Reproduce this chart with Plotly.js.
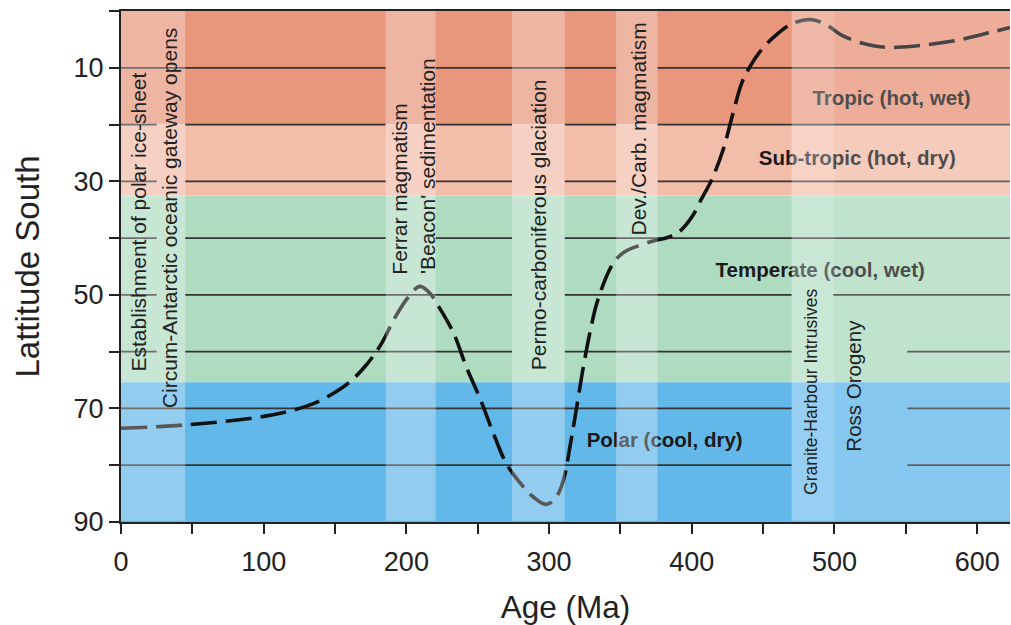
<!DOCTYPE html>
<html>
<head>
<meta charset="utf-8">
<script src="https://cdn.plot.ly/plotly-3.0.1.min.js"></script>
<style>
  html, body { margin: 0; padding: 0; background: #fff; }
  #chart { width: 1011px; height: 625px; }
</style>
</head>
<body>
<div id="chart"></div>
<script>
// ---- Data ----
const ageMa = [0, 45, 100, 130, 145, 160, 172, 182, 192, 201, 209.5, 216.5, 222, 233, 242, 252, 261, 270, 280, 289, 298, 305, 310, 315, 319, 324, 329, 334, 345, 353, 361, 373, 383, 392, 400, 407, 414, 422, 429, 435, 441, 447, 457, 469, 483, 494, 506, 523, 537, 555, 583, 609, 623];
const latSouth = [73.5, 72.9, 71.4, 69.6, 67.9, 65.4, 62.3, 58.8, 54.0, 50.5, 48.5, 49.7, 51.8, 56.7, 62.7, 68.5, 74.4, 79.7, 83.2, 85.6, 86.9, 85.6, 82.7, 76.2, 70.3, 62.7, 56.2, 51.0, 44.4, 42.4, 41.5, 40.5, 39.9, 38.7, 36.3, 33.0, 29.7, 24.4, 17.9, 12.7, 9.7, 7.4, 4.7, 2.4, 1.5, 2.4, 4.4, 5.9, 6.4, 6.2, 5.3, 3.8, 2.9];

// climate zones (latitude ranges)
const zoneNames = ["Tropic (hot, wet)", "Sub-tropic (hot, dry)", "Temperate (cool, wet)", "Polar (cool, dry)"];
const zoneFrom = [0, 20, 32.5, 65.4];
const zoneTo = [20, 32.5, 65.4, 90];
const zoneColors = ["#E8967C", "#F3BEA9", "#AFDCC1", "#63B8EA"];
const zoneLabelAge = [540, 516, 490, 381];
const zoneLabelLat = [15.6, 26.2, 46, 75.9];

// event bands (age ranges)
const bandFrom = [0, 185.5, 274, 347, 470, 500];
const bandTo = [45, 220.5, 311, 376, 500, 623];
const bandOpacity = [0.3, 0.3, 0.3, 0.3, 0.33, 0.22];

// event labels
const eventText = ["Establishment of polar ice-sheet", "Circum-Antarctic oceanic gateway opens", "Ferrar magmatism", "'Beacon' sedimentation", "Permo-carboniferous glaciation", "Dev./Carb. magmatism", "Granite-Harbour Intrusives", "Ross Orogeny"];
const eventAge = [12.5, 34, 195.5, 214.5, 292.3, 363, 483.5, 513.3];
const eventLat = [37.1, 36.4, 31.3, 27.3, 37.7, 20.7, 67.1, 65.9];
const eventSize = [21, 21, 21, 21, 21, 21, 17.5, 20.5];

// tick labels
const xTickVals = [0, 50, 100, 150, 200, 250, 300, 350, 400, 450, 500, 550, 600];
const xTickText = ["0", "", "100", "", "200", "", "300", "", "400", "", "500", "", "600"];
const yTickVals = [0, 10, 20, 30, 40, 50, 60, 70, 80, 90];
const yTickText = ["", "10", "", "30", "", "50", "", "70", "", "90"];

// horizontal guide lines and where they are interrupted (age ranges)
const gridLevels = [10, 20, 30, 40, 50, 60, 70, 80];
const gridGaps = [
  [[185.5, 220.5], [347, 376]],
  [[25, 45], [185.5, 220.5], [274, 311], [347, 376]],
  [[25, 45], [185.5, 220.5], [274, 311], [347, 376]],
  [[25, 45], [185.5, 220.5], [274, 311]],
  [[25, 45], [274, 311], [470, 499]],
  [[25, 45], [274, 311], [470, 551]],
  [[470, 551]],
  [[470, 551]]
];
const xMax = 623;

// ---- Build ----
const shapes = [];
zoneFrom.forEach((f, i) => {
  shapes.push({type: "rect", xref: "x", yref: "y", x0: 0, x1: xMax, y0: f, y1: zoneTo[i],
    fillcolor: zoneColors[i], line: {width: 0}, layer: "below"});
});
gridLevels.forEach((lv, i) => {
  let start = 0;
  const gaps = gridGaps[i].slice().sort((a, b) => a[0] - b[0]);
  gaps.forEach(g => {
    if (g[0] > start) shapes.push({type: "line", xref: "x", yref: "y", x0: start, x1: g[0], y0: lv, y1: lv,
      line: {color: "#333333", width: 1.8}, layer: "below"});
    start = g[1];
  });
  if (start < xMax) shapes.push({type: "line", xref: "x", yref: "y", x0: start, x1: xMax, y0: lv, y1: lv,
    line: {color: "#333333", width: 1.8}, layer: "below"});
});
bandFrom.forEach((f, i) => {
  shapes.push({type: "rect", xref: "x", yref: "y", x0: f, x1: bandTo[i], y0: 0, y1: 89.8,
    fillcolor: "#FFFFFF", opacity: bandOpacity[i], line: {width: 0}, layer: "above"});
});

const annotations = eventText.map((t, i) => ({
  text: t, x: eventAge[i], y: eventLat[i], xref: "x", yref: "y", showarrow: false, textangle: -90,
  font: {family: "Liberation Sans, Arial, sans-serif", size: eventSize[i], color: "#222222"}
}));

const traces = [
  {x: ageMa, y: latSouth, type: "scatter", mode: "lines", hoverinfo: "skip",
   line: {color: "#111111", width: 3.6, dash: "26px,9px", shape: "spline", smoothing: 1}},
  {x: zoneLabelAge, y: zoneLabelLat, text: zoneNames, type: "scatter", mode: "text", hoverinfo: "skip",
   textposition: "middle center",
   textfont: {family: "Liberation Sans, Arial, sans-serif", size: 20.5, color: "#1a1a1a", weight: "bold"}}
];

const axisFont = {family: "Liberation Sans, Arial, sans-serif", size: 27, color: "#222222"};
const layout = {
  width: 1011, height: 625,
  margin: {l: 121, r: 1, t: 11, b: 103},
  paper_bgcolor: "#ffffff", plot_bgcolor: "#ffffff",
  showlegend: false,
  xaxis: {range: [0, xMax], tickvals: xTickVals, ticktext: xTickText, ticks: "outside", ticklen: 10,
    tickwidth: 2, tickcolor: "#222222", showline: true, linewidth: 2, linecolor: "#222222", mirror: true,
    showgrid: false, zeroline: false, tickfont: axisFont, ticklabelstandoff: 5,
    title: {text: "Age (Ma)", font: {family: "Liberation Sans, Arial, sans-serif", size: 31.5, color: "#222222"}, standoff: 20}},
  yaxis: {range: [90, 0], tickvals: yTickVals, ticktext: yTickText, ticks: "outside", ticklen: 10,
    tickwidth: 2, tickcolor: "#222222", showline: true, linewidth: 2, linecolor: "#222222",
    showgrid: false, zeroline: false, tickfont: axisFont,
    title: {text: "Lattitude South", font: {family: "Liberation Sans, Arial, sans-serif", size: 33, color: "#222222"}, standoff: 24}},
  shapes: shapes,
  annotations: annotations
};

Plotly.newPlot("chart", traces, layout, {displayModeBar: false, staticPlot: true});
</script>
</body>
</html>
